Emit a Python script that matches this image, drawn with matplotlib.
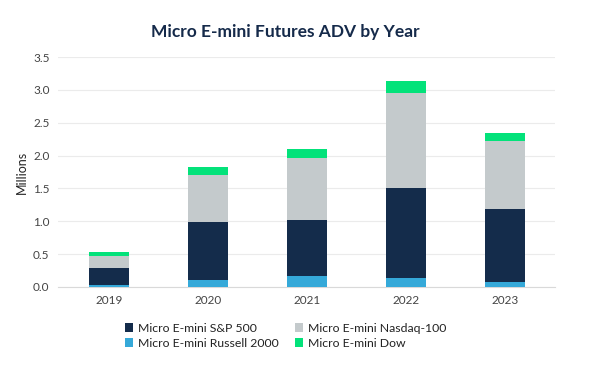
import numpy as np
import matplotlib.pyplot as plt

plt.rcParams['font.family'] = ['Lato', 'DejaVu Sans']

years = ['2019', '2020', '2021', '2022', '2023']
russell = [0.035, 0.10, 0.16, 0.13, 0.08]
sp500 = [0.25, 0.89, 0.86, 1.38, 1.11]
nasdaq = [0.19, 0.71, 0.95, 1.45, 1.04]
dow = [0.05, 0.13, 0.13, 0.17, 0.12]

c_sp = '#142c4b'
c_rus = '#35a9d9'
c_nas = '#c4cacc'
c_dow = '#03e27a'

fig = plt.figure(figsize=(5.9, 3.76), dpi=100)
ax = fig.add_axes([0.098, 0.237, 0.843, 0.611])

x = np.arange(len(years))
w = 0.4
b1 = np.array(russell)
b2 = b1 + np.array(sp500)
b3 = b2 + np.array(nasdaq)
h_rus = ax.bar(x, russell, w, color=c_rus, zorder=3)
h_sp = ax.bar(x, sp500, w, bottom=b1, color=c_sp, zorder=3)
h_nas = ax.bar(x, nasdaq, w, bottom=b2, color=c_nas, zorder=3)
h_dow = ax.bar(x, dow, w, bottom=b3, color=c_dow, zorder=3)

ax.set_xlim(-0.52, 4.51)
ax.set_ylim(0, 3.5)
ax.set_yticks(np.arange(0, 3.51, 0.5))
ax.set_yticklabels([f'{v:.1f}' for v in np.arange(0, 3.51, 0.5)])
ax.set_xticks(x)
ax.set_xticklabels(years)
ax.grid(axis='y', color='#ebebeb', linewidth=0.8, zorder=0)
for s in ['top', 'right', 'left']:
    ax.spines[s].set_visible(False)
ax.spines['bottom'].set_color('#d9d9d9')
ax.tick_params(axis='both', length=0, labelsize=8.5, colors='#444444', pad=6)
ax.set_ylabel('Millions', fontsize=9, color='#222222', labelpad=4)

fig.text(0.484, 0.915, 'Micro E-mini Futures ADV by Year', ha='center', va='center',
         fontsize=12.5, fontweight='bold', color='#152a4a')

fig.legend([h_sp, h_rus, h_nas, h_dow],
           ['Micro E-mini S&P 500', 'Micro E-mini Russell 2000',
            'Micro E-mini Nasdaq-100', 'Micro E-mini Dow'],
           ncol=2, loc='center', bbox_to_anchor=(0.484, 0.107), frameon=False,
           fontsize=8.8, handlelength=0.7, handleheight=0.7, handletextpad=0.4,
           columnspacing=1.3, labelspacing=0.35, labelcolor='#222222')

fig.savefig('out.png', dpi=100)
